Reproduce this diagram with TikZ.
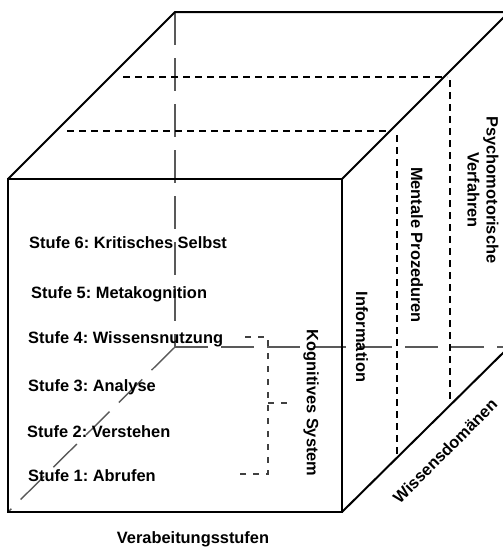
\documentclass[tikz,border=0pt]{standalone}
\usepackage{fontspec}
\setmainfont{Liberation Sans}
\frenchspacing
\tikzset{
  cubeline/.style={line width=2pt,draw=black,line join=miter},
  hiddenline/.style={line width=1.4pt,draw=black!65,dash pattern=on 33pt off 13pt},
  sliceline/.style={line width=1.8pt,draw=black,dash pattern=on 7pt off 5pt},
  bracket/.style={line width=1.4pt,draw=black!75,dash pattern=on 6pt off 7pt},
  lbl/.style={inner sep=0pt,font=\bfseries\fontsize{16.4}{19}\selectfont},
  stufe/.style={lbl,anchor=base west},
  domtext/.style={lbl,rotate=-90,align=center}
}

\begin{document}
\begin{tikzpicture}[x=1pt,y=-1pt]
  \useasboundingbox (0,0) rectangle (503,547);
  \clip (0,0) rectangle (503,547);
  % cube corners
  \coordinate (A) at (8,512); \coordinate (B) at (342,512);
  \coordinate (C) at (342,179); \coordinate (D) at (8,179);
  \coordinate (E) at (175,347); \coordinate (F) at (509,347);
  \coordinate (G) at (509,12); \coordinate (H) at (175,12);
  % hidden edges
  \draw[hiddenline] (H)--(E);
  \draw[hiddenline] (E)--(F);
  \draw[hiddenline] (E)--(A);
  % slices of the domains
  \draw[sliceline] (123,77)--(447,77);
  \draw[sliceline] (450,80)--(450,404);
  \draw[sliceline] (67,131)--(390,131);
  \draw[sliceline] (397,135)--(397,456);
  % visible edges
  \draw[cubeline] (A) rectangle (C);
  \draw[cubeline] (D)--(H)--(G)--(C);
  \draw[cubeline] (B)--(F);
  % kognitives system
  \draw[bracket] (245,337)--(268,337)--(268,474)--(237,474);
  \draw[bracket] (268,403)--(292,403);
  \node[stufe] (s6) at (29,248) {Stufe 6: Kritisches Selbst};
  \node[stufe] (s5) at (31,298) {Stufe 5: Metakognition};
  \node[stufe] (s4) at (28,343) {Stufe 4: Wissensnutzung};
  \node[stufe] (s3) at (28,391) {Stufe 3: Analyse};
  \node[stufe] (s2) at (27,437) {Stufe 2: Verstehen};
  \node[stufe] (s1) at (28,481) {Stufe 1: Abrufen};
  \node[domtext] (kog) at (311,403) {Kognitives System};
  \node[domtext] (inf) at (362,337) {Information};
  \node[domtext] (ment) at (417,245) {Mentale Prozeduren};
  \node[domtext] (psy) at (483,190) {Psychomotorische\\Verfahren};
  \node[lbl,rotate=45] (wiss) at (445,451) {Wissensdomänen};
  \node[lbl,anchor=base] (verab) at (193,543) {Verabeitungsstufen};
\end{tikzpicture}
\end{document}
